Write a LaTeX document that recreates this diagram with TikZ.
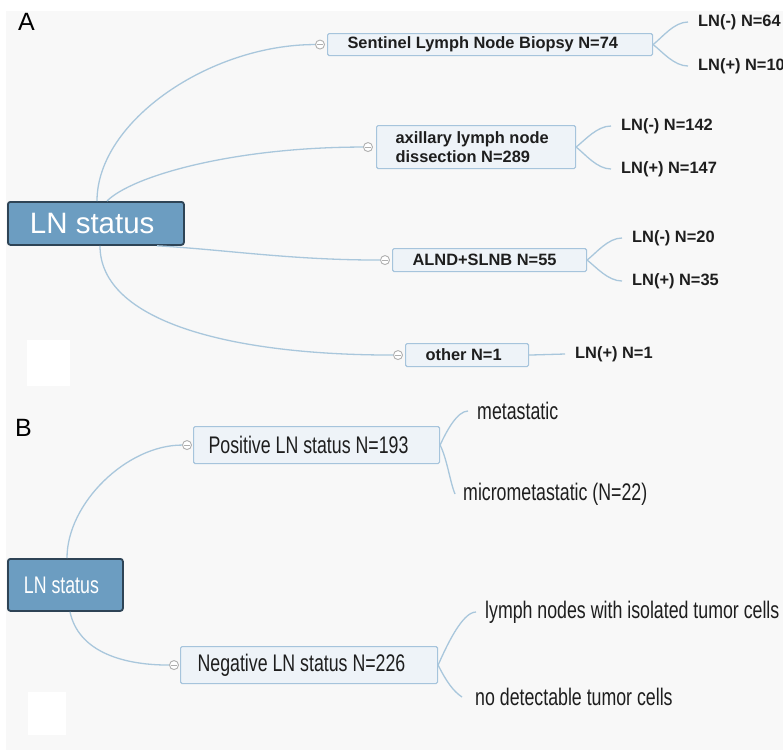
\documentclass[tikz,border=0pt]{standalone}
\usepackage{fontspec}
\setmainfont{Liberation Sans}
\newfontfamily\narrowf{Liberation Sans}[FakeStretch=0.74]
\definecolor{bgC}{HTML}{F8F8F8}
\definecolor{connC}{HTML}{A9C7DC}
\definecolor{boxF}{HTML}{EEF3F8}
\definecolor{boxB}{HTML}{A6C4DC}
\definecolor{rootF}{HTML}{6C9DC1}
\definecolor{rootB}{HTML}{2E4456}
\definecolor{foldC}{HTML}{AFAFAF}
\definecolor{txtC}{HTML}{1E1E1E}
\begin{document}
\begin{tikzpicture}[x=1pt,y=-1pt,
  conn/.style={draw=connC, line width=1.3pt},
  subbox/.style={draw=boxB, fill=boxF, line width=1.1pt, rounded corners=1.5pt, anchor=north west, align=flush left, inner ysep=0pt, text=txtC},
  rootbox/.style={draw=rootB, fill=rootF, line width=1.8pt, rounded corners=2.5pt, anchor=north west, text=white, inner ysep=0pt, align=flush left},
  leaf/.style={anchor=west, inner ysep=1pt, inner xsep=10pt, text=txtC},
  fold/.style={circle, draw=foldC, fill=white, line width=0.9pt, minimum size=9pt, inner sep=0pt,
    path picture={\draw[foldC, line width=0.9pt] ([xshift=-3pt]path picture bounding box.center) -- ([xshift=3pt]path picture bounding box.center);}},
  fa/.style={font=\fontsize{16.4}{19.5}\selectfont\bfseries},
  fb/.style={font=\narrowf\fontsize{24}{28}\selectfont},
  plabel/.style={font=\fontsize{25}{28}\selectfont, anchor=west, inner sep=0pt},
  blank/.style={fill=white, draw=none}
]
\useasboundingbox (0,0) rectangle (783,750);
\clip (0,0) rectangle (783,750);
\fill[bgC] (6,11) rectangle (783,750);
\fill[blank] (27,340) rectangle (70,386);
\fill[blank] (28,692) rectangle (66,735);

% ---------------- Panel A ----------------
\node[plabel] (labA) at (18,22) {A};
\node[rootbox, inner xsep=22pt, text width=132pt, minimum height=43pt, font=\fontsize{29.5}{33}\selectfont] (rootA) at (7,201) {LN status};

\node[subbox, fa, inner xsep=20pt, text width=285pt, minimum height=22pt] (slnb) at (327,33) {Sentinel Lymph Node Biopsy N=74};
\node[subbox, fa, inner xsep=19pt, text width=161pt, minimum height=43pt] (alnd) at (376,125) {axillary lymph node\\dissection N=289};
\node[subbox, fa, inner xsep=20pt, text width=154pt, minimum height=23pt] (both) at (392,248) {ALND+SLNB N=55};
\node[subbox, fa, inner xsep=20pt, text width=83pt, minimum height=23pt] (oth) at (405,343) {other N=1};

\node[fold] (f1) at ([xshift=-7pt]slnb.west) {};
\node[fold] (f2) at ([xshift=-8pt]alnd.west) {};
\node[fold] (f3) at ([xshift=-7pt]both.west) {};
\node[fold] (f4) at ([xshift=-7pt]oth.west) {};

\draw[conn] ([xshift=90pt]rootA.north west) .. controls +(0,-80) and +(-105,0) .. (f1.west);
\draw[conn] ([xshift=100pt]rootA.north west) .. controls +(25,-25) and +(-130,0) .. (f2.west);
\draw[conn] ([xshift=150pt]rootA.south west) .. controls +(70,4) and +(-90,0) .. (f3.west);
\draw[conn] ([xshift=93pt]rootA.south west) .. controls +(0,75) and +(-165,0) .. (f4.west);

\node[leaf, fa] (s1) at (688,22) {LN(-) N=64};
\node[leaf, fa] (s2) at (688,66) {LN(+) N=10};
\node[leaf, fa] (a1) at (611,126) {LN(-) N=142};
\node[leaf, fa] (a2) at (611,169) {LN(+) N=147};
\node[leaf, fa] (b1) at (622,238) {LN(-) N=20};
\node[leaf, fa] (b2) at (622,281) {LN(+) N=35};
\node[leaf, fa] (o1) at (565,354) {LN(+) N=1};

\draw[conn] (slnb.east) .. controls +(9,-7) and +(-14,0) .. (s1.west);
\draw[conn] (slnb.east) .. controls +(9,7) and +(-14,0) .. (s2.west);
\draw[conn] (alnd.east) .. controls +(9,-7) and +(-14,0) .. (a1.west);
\draw[conn] (alnd.east) .. controls +(9,7) and +(-14,0) .. (a2.west);
\draw[conn] (both.east) .. controls +(9,-7) and +(-14,0) .. (b1.west);
\draw[conn] (both.east) .. controls +(9,7) and +(-14,0) .. (b2.west);
\draw[conn] (oth.east) -- (o1.west);

% ---------------- Panel B ----------------
\node[plabel] (labB) at (15,428) {B};
\node[rootbox, inner xsep=16pt, text width=83pt, minimum height=52pt, fb] (rootB) at (7,558) {LN status};

\node[subbox, fb, inner xsep=15pt, text width=216pt, minimum height=37pt] (pos) at (193,426) {Positive LN status N=193};
\node[subbox, fb, inner xsep=17pt, text width=223pt, minimum height=37pt] (neg) at (180,646) {Negative LN status N=226};

\node[fold] (f5) at ([xshift=-6pt]pos.west) {};
\node[fold] (f6) at ([xshift=-6pt]neg.west) {};

\draw[conn] ([xshift=60pt]rootB.north west) .. controls +(0,-55) and +(-55,0) .. (f5.west);
\draw[conn] ([xshift=63pt]rootB.south west) .. controls +(8,38) and +(-50,0) .. (f6.west);

\node[leaf, fb, inner xsep=9pt] (p1) at (468,411) {metastatic};
\node[leaf, fb, inner xsep=8pt] (p2) at (455,494) {micrometastatic (N=22)};
\node[leaf, fb, inner xsep=9pt] (n1) at (476,612) {lymph nodes with isolated tumor cells};
\node[leaf, fb, inner xsep=13pt] (n2) at (462,697) {no detectable tumor cells};

\draw[conn] (pos.east) .. controls +(6,-13) and +(-11,0) .. (p1.west);
\draw[conn] (pos.east) .. controls +(7,14) and +(-5,-12) .. (p2.west);
\draw[conn] (neg.east) .. controls +(8,-18) and +(-14,0) .. (n1.west);
\draw[conn] (neg.east) .. controls +(8,16) and +(-9,-6) .. (n2.west);
\end{tikzpicture}
\end{document}
